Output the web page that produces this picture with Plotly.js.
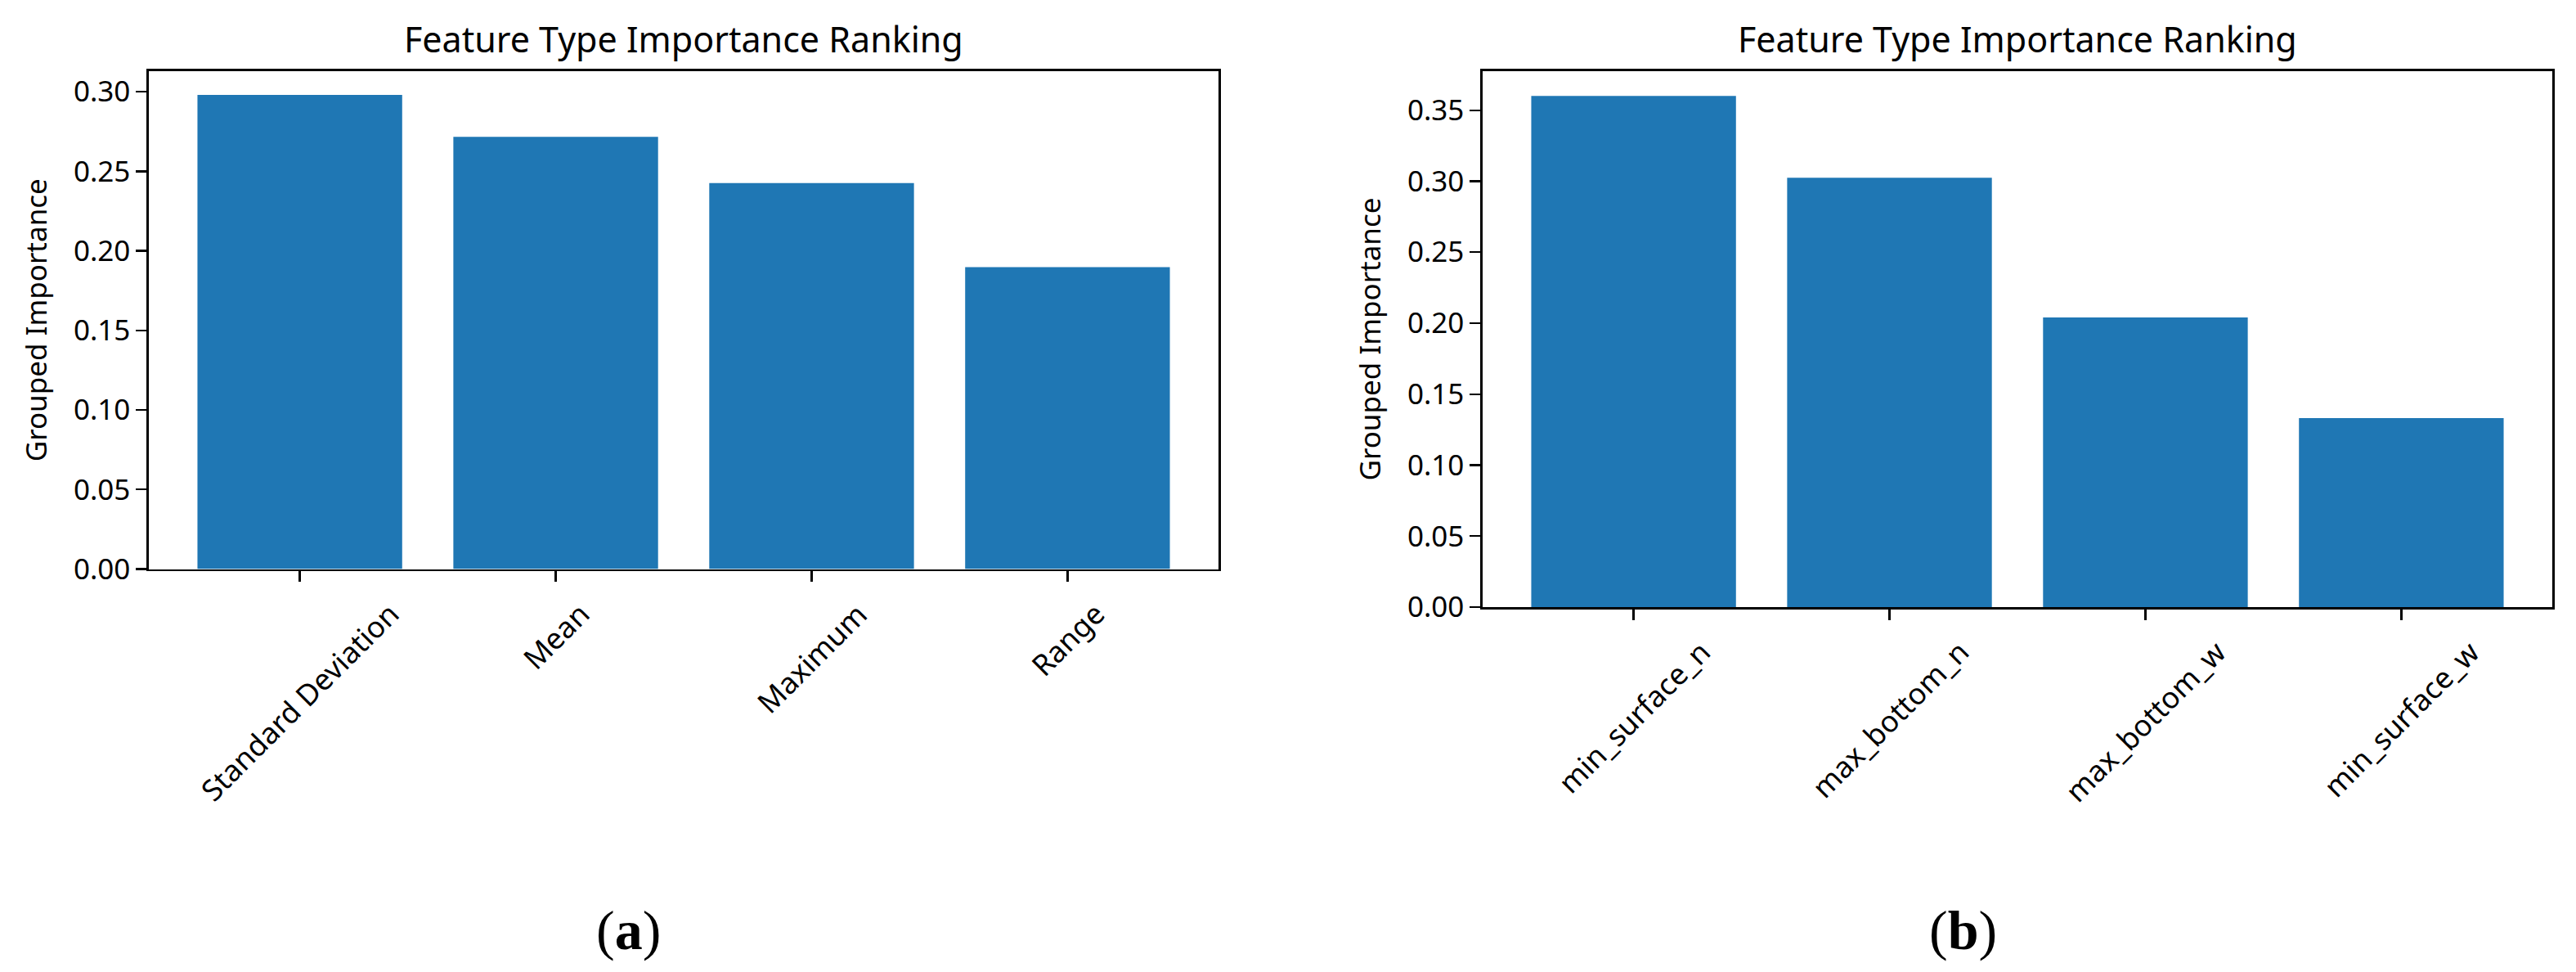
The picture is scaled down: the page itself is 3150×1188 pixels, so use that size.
<!DOCTYPE html>
<html>
<head>
<meta charset="utf-8">
<script src="https://cdn.plot.ly/plotly-3.0.1.min.js"></script>
<style>html,body{margin:0;padding:0;background:#fff;}#chart{width:3150px;height:1188px;}</style>
</head>
<body>
<div id="chart"></div>
<script>
// Panel (a)
var catsA = ["Standard Deviation", "Mean", "Maximum", "Range"];
var valsA = [0.298, 0.2716, 0.2426, 0.1898];
// Panel (b)
var catsB = ["min_surface_n", "max_bottom_n", "max_bottom_w", "min_surface_w"];
var valsB = [0.360, 0.3025, 0.204, 0.1332];
var yTickVals = [0, 0.05, 0.10, 0.15, 0.20, 0.25, 0.30, 0.35];
var titleText = "Feature Type Importance Ranking";
var yTitleText = "Grouped Importance";
var panelLabels = ["(<b>a</b>)", "(<b>b</b>)"];

var W = 3150, H = 1188;
var FONT = "Noto Sans, Open Sans, DejaVu Sans, sans-serif";
var barColor = "#1f77b4";

var traces = [
  {type: "bar", x: catsA, y: valsA, xaxis: "x", yaxis: "y", width: 0.8,
   marker: {color: barColor, line: {width: 0}}, hoverinfo: "x+y"},
  {type: "bar", x: catsB, y: valsB, xaxis: "x2", yaxis: "y2", width: 0.8,
   marker: {color: barColor, line: {width: 0}}, hoverinfo: "x+y"}
];

function px2x(p) { return p / W; }
function py2y(p) { return 1 - p / H; }

var domA = [px2x(182), px2x(1490)];
var domB = [px2x(1813), px2x(3121)];
var yTop = py2y(87);
var yBotA = py2y(695.5);
var yBotB = py2y(742);

function xaxisDef(dom, anchor) {
  return {
    domain: dom, anchor: anchor, type: "category",
    range: [-0.59, 3.59], fixedrange: true,
    showline: true, linecolor: "#000", linewidth: 2.6, mirror: true,
    ticks: "outside", ticklen: 13, tickwidth: 2.4, tickcolor: "#000",
    showticklabels: false, showgrid: false, zeroline: false
  };
}
function yaxisDef(dom, anchor, top) {
  return {
    domain: dom, anchor: anchor, range: [0, top], fixedrange: true,
    showline: true, linecolor: "#000", linewidth: 2.6, mirror: true,
    ticks: "outside", ticklen: 13, tickwidth: 2.4, tickcolor: "#000",
    tickmode: "array", tickvals: yTickVals, tickformat: ".2f",
    tickfont: {family: FONT, size: 35, color: "#000"},
    showgrid: false, zeroline: false,
    title: {text: yTitleText, font: {family: FONT, size: 35, color: "#000"}, standoff: 22}
  };
}

var annotations = [];
function addXLabels(cats, xref, yref) {
  cats.forEach(function (c) {
    annotations.push({
      x: c, y: 0, xref: xref, yref: yref, text: c, showarrow: false,
      textangle: -45, xanchor: "center", yanchor: "top", yshift: -28,
      font: {family: FONT, size: 36, color: "#000"}
    });
  });
}
addXLabels(catsA, "x", "y");
addXLabels(catsB, "x2", "y2");

[domA, domB].forEach(function (d) {
  annotations.push({
    x: (d[0] + d[1]) / 2, y: yTop, xref: "paper", yref: "paper",
    text: titleText, showarrow: false, xanchor: "center", yanchor: "bottom", yshift: 8,
    font: {family: FONT, size: 43, color: "#000"}
  });
});

annotations.push({x: px2x(768), y: py2y(1137), xref: "paper", yref: "paper",
  text: panelLabels[0], showarrow: false, xanchor: "center", yanchor: "middle",
  font: {family: "Liberation Serif, DejaVu Serif, serif", size: 68, color: "#000"}});
annotations.push({x: px2x(2400), y: py2y(1137), xref: "paper", yref: "paper",
  text: panelLabels[1], showarrow: false, xanchor: "center", yanchor: "middle",
  font: {family: "Liberation Serif, DejaVu Serif, serif", size: 68, color: "#000"}});

var layout = {
  width: W, height: H,
  margin: {l: 0, r: 0, t: 0, b: 0, pad: 0},
  paper_bgcolor: "#fff", plot_bgcolor: "#fff",
  showlegend: false,
  bargap: 0.2,
  font: {family: FONT, color: "#000"},
  xaxis: xaxisDef(domA, "y"),
  yaxis: yaxisDef([yBotA, yTop], "x", 0.3129),
  xaxis2: xaxisDef(domB, "y2"),
  yaxis2: yaxisDef([yBotB, yTop], "x2", 0.3775),
  annotations: annotations
};

Plotly.newPlot("chart", traces, layout, {displayModeBar: false, staticPlot: true});
</script>
</body>
</html>
